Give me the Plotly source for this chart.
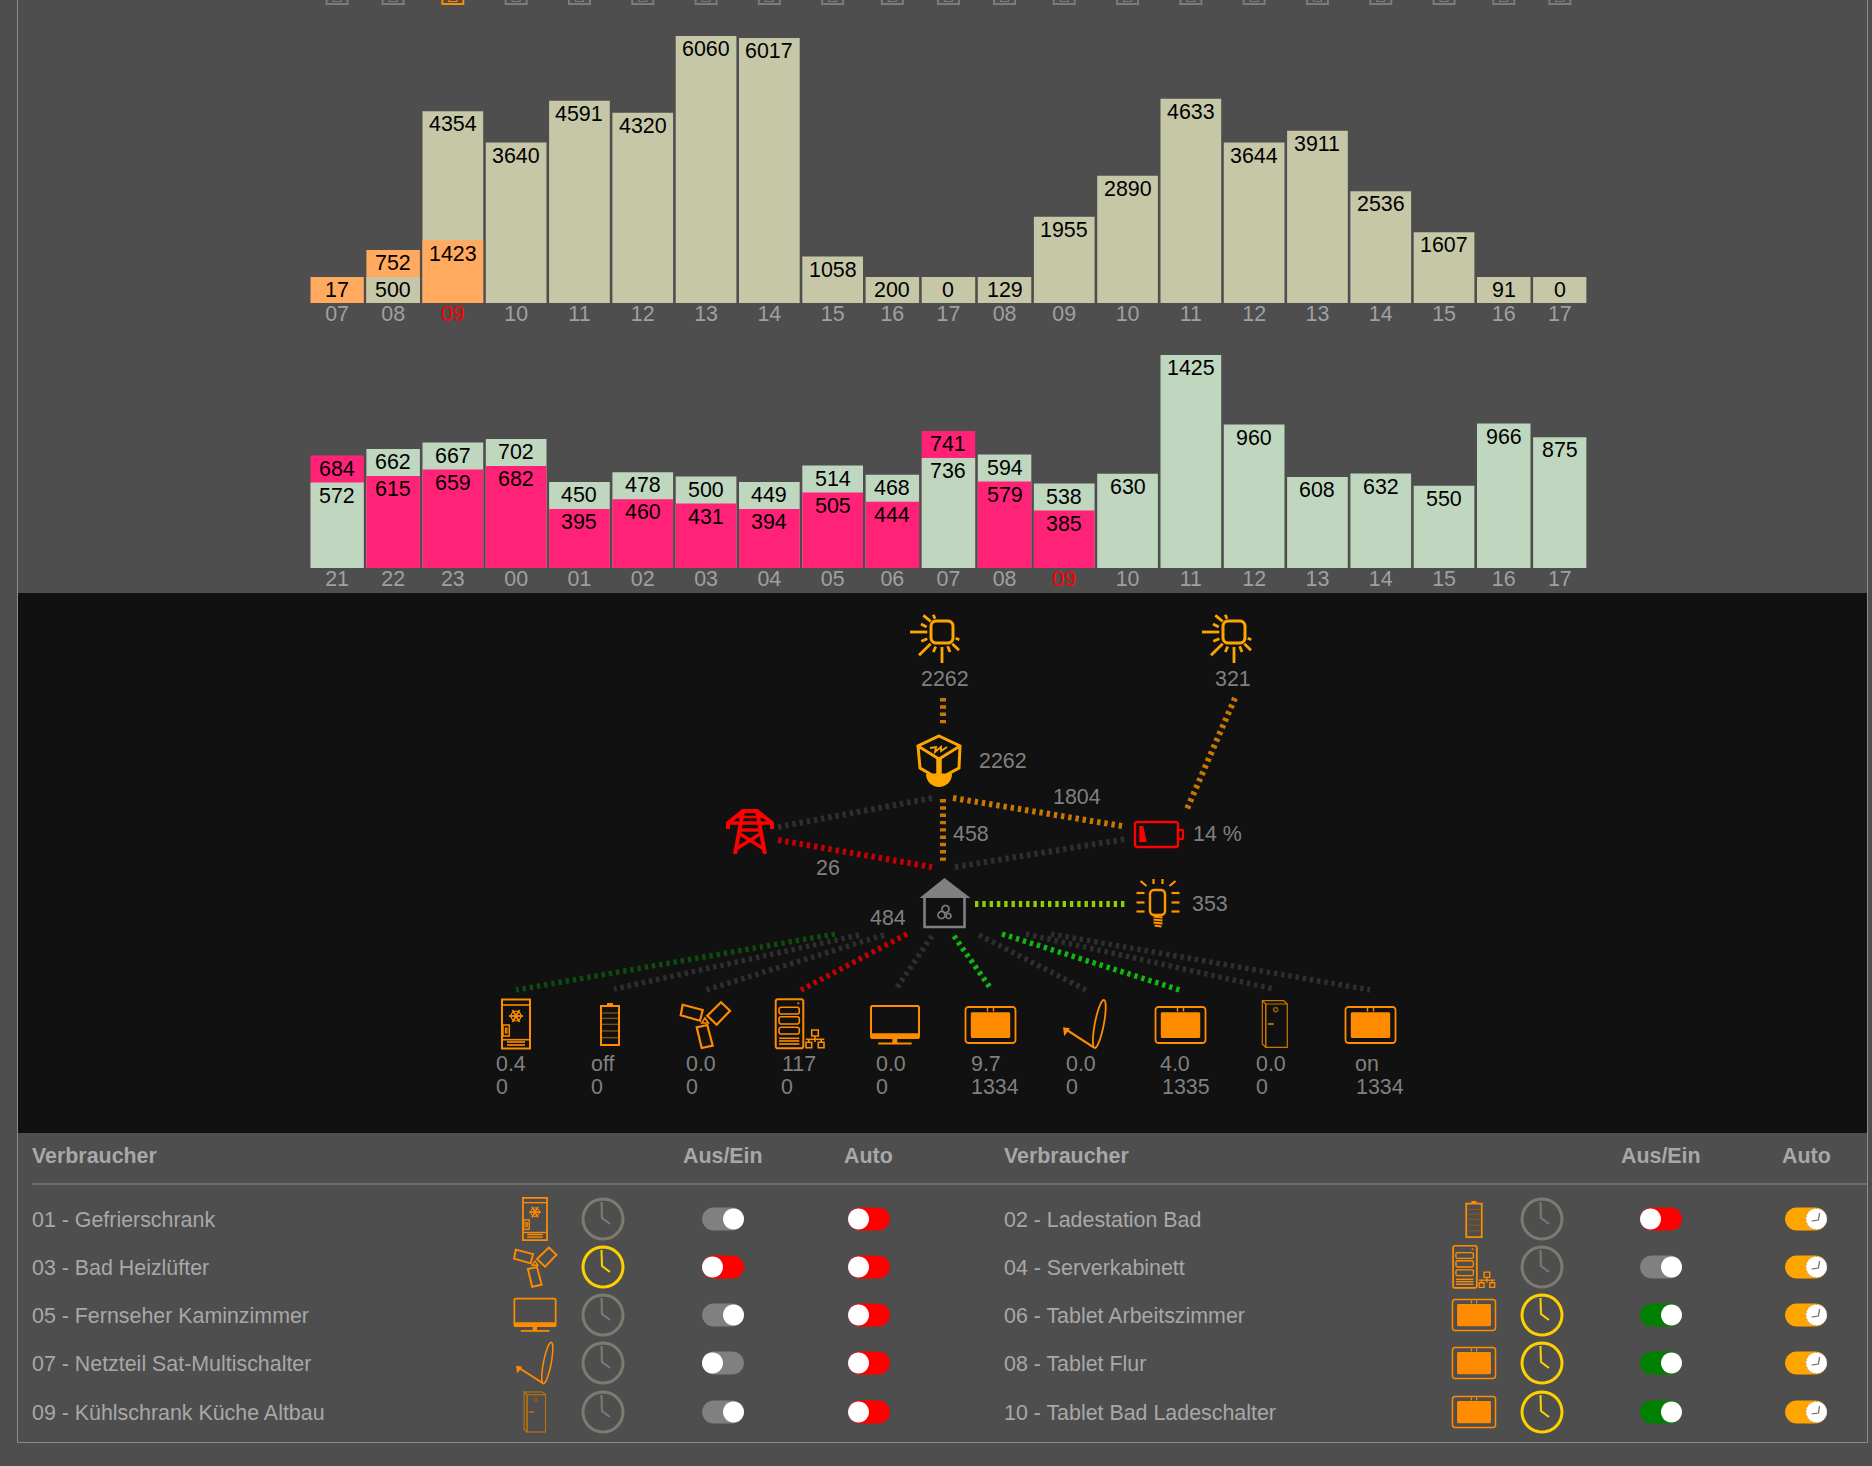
import math
import plotly.graph_objects as go

# ---------- data ----------
slot_labels_top = ["07","08","09","10","11","12","13","14","15","16","17","08","09","10","11","12","13","14","15","16","17"]
olive_values = [None,500,4354,3640,4591,4320,6060,6017,1058,200,0,129,1955,2890,4633,3644,3911,2536,1607,91,0]
orange_values = [17,752,1423,None,None,None,None,None,None,None,None,None,None,None,None,None,None,None,None,None,None]

slot_labels_bottom = ["21","22","23","00","01","02","03","04","05","06","07","08","09","10","11","12","13","14","15","16","17"]
green_values = [572,662,667,702,450,478,500,449,514,468,736,594,538,630,1425,960,608,632,550,966,875]
pink_values = [684,615,659,682,395,460,431,394,505,444,741,579,385,None,None,None,None,None,None,None,None]

consumers = ["01 - Gefrierschrank","02 - Ladestation Bad","03 - Bad Heizlüfter","04 - Serverkabinett",
             "05 - Fernseher Kaminzimmer","06 - Tablet Arbeitszimmer","07 - Netzteil Sat-Multischalter",
             "08 - Tablet Flur","09 - Kühlschrank Küche Altbau","10 - Tablet Bad Ladeschalter"]
device_power = ["0.4","off","0.0","117","0.0","9.7","0.0","4.0","0.0","on"]
device_energy = ["0","0","0","0","0","1334","0","1335","0","1334"]
flow_solar1, flow_solar2, flow_inverter, flow_batt_in, flow_house_in = "2262","321","2262","1804","458"
flow_grid, flow_batt_pct, flow_light, flow_house = "26","14 %","353","484"

# ---------- layout constants ----------
W, H = 1872, 1466
BG, PANEL = "#4e4e4e", "#111111"
FONT = "Liberation Sans"
FS = 21.4
NARROW = {0,1,9,10,11,19,20}
PITCH_N, PITCH_W, GAP = 56.1, 63.3, 2.6
X0 = 310.3
BASE1, KTOP1, K1 = 303, 20, 267/6060
BASE2, KTOP2, K2 = 568, 340, 213/1425
MIN_PX, MINSEG_PX = 26, 27
OLIVE, ORANGE, GREEN, PINK = "#c5c7a7", "#ffaa5e", "#bfd6bf", "#ff2277"
RED_LABEL_TOP, RED_LABEL_BOTTOM = 2, 12

pitch = [PITCH_N if i in NARROW else PITCH_W for i in range(21)]
left = [X0 + sum(pitch[:i]) for i in range(21)]
bar_w = [p - GAP for p in pitch]
center = [l + w/2 for l, w in zip(left, bar_w)]

notes = []


def split(sa, sb, ca, cb, k):
    """Return back/front heights, labels and colours per slot."""
    mn, ms = MIN_PX/k, MINSEG_PX/k
    by, bt, bc, fy, ft, fc = [], [], [], [], [], []
    for a, b in zip(sa, sb):
        if a is None or b is None:
            v, c = (a, ca) if b is None else (b, cb)
            fy.append(max(v, mn)); ft.append(str(v)); fc.append(c)
            by.append(None); bt.append(""); bc.append(c)
        else:
            lo, hi, cl, ch = (a, b, ca, cb) if a <= b else (b, a, cb, ca)
            h = max(lo, mn)
            fy.append(h); ft.append(str(lo)); fc.append(cl)
            by.append(max(hi, h + ms)); bt.append(str(hi)); bc.append(ch)
    return by, bt, bc, fy, ft, fc


fig = go.Figure()


def add_chart(sa, sb, ca, cb, k, xa, ya):
    by, bt, bc, fy, ft, fc = split(sa, sb, ca, cb, k)
    for y, t, c in ((by, bt, bc), (fy, ft, fc)):
        fig.add_bar(x=center, y=y, width=bar_w, marker=dict(color=c, line=dict(width=0)),
                    hoverinfo="skip", xaxis=xa, yaxis=ya, showlegend=False)
        for xx, yy, tt in zip(center, y, t):
            if yy is not None:
                notes.append(dict(x=xx, y=yy, xref=xa, yref=ya, text=tt, showarrow=False, xanchor="center",
                                  yanchor="middle", yshift=-13.2, font=dict(family=FONT, size=FS, color="#000000")))


add_chart(olive_values, orange_values, OLIVE, ORANGE, K1, "x", "y")
add_chart(green_values, pink_values, GREEN, PINK, K2, "x2", "y2")
fig.add_scatter(x=[0, W], y=[0, H], mode="markers", marker=dict(opacity=0), xaxis="x3", yaxis="y3",
                hoverinfo="skip", showlegend=False)

# ---------- drawing helpers ----------
shapes = []


def path(pts, closed=False):
    s = "M " + " L ".join(f"{x:.2f} {y:.2f}" for x, y in pts)
    return s + (" Z" if closed else "")


def stroke(pts, color, w, closed=False, dash=None):
    ln = dict(color=color, width=w)
    if dash:
        ln["dash"] = dash
    shapes.append(dict(type="path", path=path(pts, closed), xref="x3", yref="y3", line=ln, fillcolor="rgba(0,0,0,0)"))


def fill(pts, color):
    shapes.append(dict(type="path", path=path(pts, True), xref="x3", yref="y3", line=dict(width=0), fillcolor=color))


def rect(x0, y0, x1, y1, color):
    shapes.append(dict(type="rect", x0=x0, x1=x1, y0=y0, y1=y1, xref="x3", yref="y3", line=dict(width=0), fillcolor=color))


def circ(cx, cy, r, n=32, a0=0, a1=360):
    return [(cx + r*math.cos(math.radians(a0 + (a1-a0)*i/n)), cy + r*math.sin(math.radians(a0 + (a1-a0)*i/n))) for i in range(n+1)]


def rrect(x0, y0, x1, y1, r):
    p = []
    for cx, cy, a in ((x1-r, y0+r, -90), (x1-r, y1-r, 0), (x0+r, y1-r, 90), (x0+r, y0+r, 180)):
        p += circ(cx, cy, r, 5, a, a+90)
    return p


def ellipse(cx, cy, a, b, deg, n=36):
    t = math.radians(deg)
    out = []
    for i in range(n+1):
        u = 2*math.pi*i/n
        x, y = a*math.cos(u), b*math.sin(u)
        out.append((cx + x*math.cos(t) - y*math.sin(t), cy + x*math.sin(t) + y*math.cos(t)))
    return out


def text(x, y, s, color="#808080", anchor="left", size=FS):
    if anchor == "left":
        x -= 2.2
    notes.append(dict(x=x, y=y - 0.2, xref="x3", yref="y3", text=s, showarrow=False, xanchor=anchor, yanchor="middle",
                      font=dict(family=FONT, size=size, color=color)))


def S(pts, w=2, c=None, closed=False):
    return ("s", pts, w, c, closed)


def F(pts, c=None):
    return ("f", pts, 0, c, True)


# ---------- icons, local px relative to centre ----------
SUN = [S(rrect(-11,-11,11,11,5), 3, closed=True)] + [S(p, 2.8) for p in (
    [(-32,0),(-14.7,0)], [(-18.7,-16.7),(-11.3,-10.7)], [(-8.7,-17.3),(-7,-13.3)], [(-21,-8),(-15.3,-5)],
    [(-20.7,9.3),(-14.7,6.7)], [(-23,23.3),(-11.3,11.7)], [(-8.7,20),(-6.3,14.7)], [(0,31),(0,15)],
    [(8,20),(5.7,14.3)], [(17,18.3),(10.3,11.7)], [(17.3,7.7),(13.7,6.3)])]
CUBE = [S([(0,-24),(21,-14),(20,8),(7,15),(-7,15),(-19,8),(-21,-14)], 3, closed=True),
        S([(-21,-14),(0,-1),(21,-14)], 2.8), S([(0,-1),(0,15)], 5.5),
        S([(-9,-12),(-3,-13),(-4,-8),(2,-13),(2,-9),(8,-13)], 1.8),
        F(circ(0,14,13,16,0,180))]
PYLON = [S([(-22,-3),(-22,-9),(-7,-21),(7,-21),(22,-9),(22,-3)], 4),
         S([(-22,-9),(22,-9)], 3.6), S([(-12,-15),(12,-15)], 2.6),
         S([(-7,-21),(-15,22)], 4), S([(7,-21),(15,22)], 4), S([(-10,-2),(10,-2)], 3.4),
         S([(-10,2),(14,17)], 3.4), S([(10,2),(-14,17)], 3.4)]
BATT_RED = [S(rrect(-22,-12,21,13,2), 2.4, closed=True), S(rrect(21,-4,26,5,1), 2.2, closed=True),
            F([(-17.7,-8),(-13.7,-8),(-10.3,8),(-17.7,8)])]
BULB = [S(rrect(-7.5,-12.5,7.5,12.5,4), 2.4, closed=True)] + [S(p, 2.2) for p in (
    [(-21,-9.5),(-13,-9.5)], [(-21,0),(-13,0)], [(-21,9),(-13,9)], [(14,-9.5),(22,-9.5)], [(14,0),(22,0)], [(14,9),(22,9)],
    [(-4,-23.5),(-4,-18.5)], [(5,-23.5),(5,-18.5)], [(-17,-21.5),(-11,-16.5)], [(18,-21.5),(12,-16.5)],
    [(-4,14),(5,15)], [(-4,17),(5,18)], [(-4,20),(5,21)], [(-3,23),(4,24)])]
HOUSE = [F([(0,-34),(26,-14),(-25,-14)]), S([(-20,-14),(-20,15),(20,15),(20,-14)], 2.6),
         S(circ(1,-3,3.5), 1.6), S(circ(-3,3,3.5), 1.6), S(circ(4,4,2.5), 1.6)]
FREEZER = [S([(-14,-24.5),(14,-24.5),(14,24.5),(-14,24.5)], 2, closed=True), S([(-14,-19),(14,-19)], 1.6),
           S([(-14,15.7),(14,15.7)], 1.6), S([(-9,18),(9,18)], 1.6), S([(-9,21),(9,21)], 1.6),
           S([(-7,-8),(7,-8)], 1.8), S([(-3.5,-14),(3.5,-2)], 1.8), S([(3.5,-14),(-3.5,-2)], 1.8), S(circ(0,-8,5,12), 1.2),
           S([(-13,1),(-6.7,1),(-6.7,12),(-13,12)], 1.5, closed=True), S([(-10.5,4),(-9,4),(-9,9),(-10.5,9)], 1.2, closed=True)]
BATTERY = [S([(-9,-18),(9,-18),(9,21),(-9,21)], 2, closed=True), F([(-3,-21),(3,-21),(3,-18),(-3,-18)])] + \
          [S([(-8,y),(8,y)], 1.2, "#8f5a10") for y in (-11,-5.7,0.3,7,13.7)]
FAN = [S([(-22.3,-20.3),(-2.3,-15),(-5,-4.3),(-24.3,-9.7)], 2.2, closed=True),
       S([(16,-22.7),(25,-14.3),(11.7,-0.3),(2.3,-9.3)], 2.2, closed=True),
       S([(-8.3,2.3),(2.3,0),(7.7,20.7),(-3.3,23)], 2.2, closed=True),
       S([(-3.3,-2),(0,-7),(3.3,-2)], 1.6, closed=True)]
SERVER = [S(rrect(-24.3,-24.7,3.3,24.3,2), 2, closed=True), S(rrect(-21,-16.7,-0.7,-10,2), 1.6, closed=True),
          S(rrect(-21,-7.3,-0.7,0,2), 1.6, closed=True), S(rrect(-21,3.3,-0.7,10,2), 1.6, closed=True),
          S([(-21,14.3),(-0.7,14.3)], 1.6), S([(-21,17),(-0.7,17)], 1.6), S([(-21,20),(-0.7,20)], 1.6),
          S(circ(-1.7,-20.7,0.8,6), 1),
          S([(11.7,6),(18.3,6),(18.3,12),(11.7,12)], 1.6, closed=True), S([(15,12),(15,18)], 1.6), S([(5.7,15.3),(24.3,15.3)], 1.6),
          S([(8.7,15.3),(8.7,18.3)], 1.6), S([(21.2,15.3),(21.2,18.3)], 1.6),
          S([(6,18.3),(11.7,18.3),(11.7,23.7),(6,23.7)], 1.6, closed=True), S([(18.3,18.3),(24,18.3),(24,23.7),(18.3,23.7)], 1.6, closed=True)]
MONITOR = [S(rrect(-24,-19,24,13,1.5), 2, closed=True), F([(-24.3,8.3),(24.3,8.3),(24.3,13.3),(-24.3,13.3)]),
           F([(-2.7,13),(2.3,13),(2.3,18),(-2.7,18)]), F([(-16.7,17.5),(16.7,17.5),(16.7,19.5),(-16.7,19.5)])]
TABLET = [S(rrect(-25,-18,25,18,3), 1.8, closed=True), F(rrect(-19.7,-12.7,19.7,13,1.5)),
          S([(-3,-17),(-3,-13.5)], 1.4), S([(3,-17),(3,-13.5)], 1.4)]
DISH = [S(ellipse(14.3,0,24.5,4.5,-79), 1.8, closed=True), S([(8.7,23.3),(-19.7,5)], 2.2),
        F([(-22,3.3),(-15,4.3),(-20.7,12.3)])]
FRIDGE = [S([(-9.3,-20),(12.3,-20),(12.3,23.3),(-9.3,23.3)], 1.2, "#c87800", True),
          S([(-12.7,-23.3),(-9.3,-20),(-9.3,23.3),(-12.7,20)], 1.2, "#c87800", True),
          S([(-12.7,-23.3),(8.7,-23.3),(12.3,-20)], 1.2, "#c87800"),
          S(circ(0.7,-14.3,2.2,8), 1.6, "#8f5a10"), S([(-7,0),(-1.3,0)], 2.2, "#a86a10")]


def place(icon, cx, cy, s=1.0, color="#ff8c00"):
    for kind, pts, w, c, closed in icon:
        p = [(cx + s*x, cy + s*y) for x, y in pts]
        if kind == "f":
            fill(p, c or color)
        else:
            stroke(p, c or color, w*s, closed)


# ---------- frame ----------
LINE = "#8c8c8c"
stroke([(17.5,0),(17.5,1442.5),(1867.5,1442.5),(1867.5,0)], LINE, 1)
rect(18, 593, 1867, 1133, PANEL)
stroke([(32,1184),(1867,1184)], LINE, 1)

# stubs of the icons cut off at the top edge
for i, c in enumerate(center):
    col = "#ff8c00" if i == RED_LABEL_TOP else "#7c7c7c"
    stroke([(c-10.5,-3),(c-10.5,4),(c+10.5,4),(c+10.5,-3)], col, 2)
    stroke([(c-4,-3),(c-4,1.5),(c+4,1.5),(c+4,-3)], col, 1.2)

# ---------- flow lines ----------
DIM_O, DARK, RED_F, LIME, GRN, DGRN = "#c87800", "#2f2f2f", "#c80000", "#8fd000", "#10b810", "#0f4d0f"
DASH = "3.4px,3.9px"
flows = [((943,698),(943,724),DIM_O,6), ((943,799),(943,863),DIM_O,6), ((778,827),(932,798),DARK,6),
         ((778,840),(932,867),RED_F,6), ((953,798),(1122,826),DIM_O,6), ((955,867),(1126,839),DARK,6),
         ((1235,698),(1187,809),DIM_O,6), ((975,904),(1125,904),LIME,6),
         ((835,934),(516,990),DGRN,5.5), ((859,935),(614,989),DARK,5.5), ((884,935),(706,990),DARK,5.5),
         ((907,934),(801,990),RED_F,5.5), ((932,936),(896,989),DARK,5.5), ((954,936),(991,989),GRN,5.5),
         ((979,935),(1086,990),DARK,5.5), ((1002,934),(1180,990),GRN,5.5), ((1026,934),(1274,989),DARK,5.5),
         ((1051,934),(1370,990),DARK,5.5)]
for a, b, c, w in flows:
    stroke([a, b], c, w, dash=DASH)

# ---------- flow icons ----------
place(SUN, 942, 632, 1, "#ffa500")
place(SUN, 1234, 632, 1, "#ffa500")
place(CUBE, 939, 760, 1, "#ffa500")
place(PYLON, 750, 832, 1, "#ff0000")
place(BATT_RED, 1157, 834, 1, "#ff0000")
place(BULB, 1157.5, 902.5, 1, "#ff9500")
place(HOUSE, 944.5, 912, 1, "#808080")

text(945, 679, flow_solar1, anchor="center")
text(1233, 679, flow_solar2, anchor="center")
text(1003, 761, flow_inverter, anchor="center")
text(953, 834, flow_house_in)
text(828, 868, flow_grid, anchor="center")
text(1077, 797, flow_batt_in, anchor="center")
text(1193, 834, flow_batt_pct)
text(1192, 904, flow_light)
text(888, 918, flow_house, anchor="center")

# ---------- devices ----------
ICONS = [FREEZER, BATTERY, FAN, SERVER, MONITOR, TABLET, DISH, TABLET, FRIDGE, TABLET]
DEV_X = [516, 610, 705, 800, 895, 990.5, 1085, 1180.5, 1275, 1370.5]
DEV_Y = [1024, 1024, 1025, 1024, 1025, 1025, 1024, 1025, 1024, 1025]
PW_X = [496, 591, 686, 782, 876, 971, 1066, 1160, 1256, 1355]
EN_X = [496, 591, 686, 781, 876, 971, 1066, 1162, 1256, 1356]
for ic, x, y, pw, en, px, ex in zip(ICONS, DEV_X, DEV_Y, device_power, device_energy, PW_X, EN_X):
    place(ic, x, y)
    text(px, 1064, pw)
    text(ex, 1087, en)

# ---------- table ----------
TXT = "#a8a8a8"
for x0, xa, xb in ((32, 723, 868), (1004, 1661, 1806)):
    text(x0, 1156, "<b>Verbraucher</b>", TXT)
    text(xa, 1156, "<b>Aus/Ein</b>", TXT, "center")
    text(xb, 1156, "<b>Auto</b>", TXT, "center")

ROW_Y = [1219, 1267, 1315, 1363, 1412]
GR, YE = "#7d7a72", "#ffd000"
T_GREY, T_RED, T_GREEN, T_ORG = "#808080", "#ff0000", "#008000", "#ffa500"
clock_on = [0,1,0,0,0, 0,0,1,1,1]
sw_col = [T_GREY,T_RED,T_GREY,T_GREY,T_GREY, T_RED,T_GREY,T_GREEN,T_GREEN,T_GREEN]
sw_right = [1,0,1,0,1, 0,1,1,1,1]


def clock(cx, cy, col):
    stroke(circ(cx, cy, 20, 40), col, 3)
    stroke([(cx-1.5,cy-17),(cx-1,cy-1),(cx+7,cy+5)], col, 2)


def toggle(cx, cy, col, right, auto=False):
    fill(rrect(cx-21, cy-11.5, cx+21, cy+11.5, 11.5), col)
    kx = cx + 10.5 if right else cx - 10.5
    fill(circ(kx, cy, 10.5), "#ffffff")
    if auto:
        stroke(circ(kx, cy, 10.5), "#9a9a9a", 1, dash="1px,2.5px")
        stroke([(kx+3,cy-6),(kx+2,cy+1),(kx-5,cy+2)], "#666666", 1.2)


for i, name in enumerate(consumers):
    r, c = i//2, i % 2
    y = ROW_Y[r]
    tx, ix, kx, ax, bx = ((32, 535, 603, 723, 869), (1004, 1474, 1542, 1661, 1806))[c]
    text(tx, y+1, name, TXT)
    place(ICONS[i], ix, y, 0.86)
    clock(kx, y, YE if clock_on[5*c + r] else GR)
    toggle(ax, y, sw_col[5*c + r], sw_right[5*c + r])
    if c == 0:
        toggle(bx, y, T_RED, False)
    else:
        toggle(bx, y, T_ORG, True, True)

# ---------- axes ----------
x_range = [X0, left[-1] + bar_w[-1]]
dx = [X0/W, x_range[1]/W]


def tick_text(labels, red):
    return [f'<span style="color:#ff0000">{t}</span>' if i == red else t for i, t in enumerate(labels)]


def xa(labels, red, anchor):
    return dict(domain=dx, range=x_range, anchor=anchor, tickmode="array", tickvals=center, ticktext=tick_text(labels, red),
                tickfont=dict(family=FONT, size=FS, color="#a0a0a0"), showgrid=False, zeroline=False, showline=False,
                ticks="", ticklabelstandoff=-4, fixedrange=True)


def ya(top, base, k, anchor):
    return dict(domain=[1-base/H, 1-top/H], range=[0, (base-top)/k], anchor=anchor, visible=False, fixedrange=True)


fig.update_layout(
    width=W, height=H, autosize=False, margin=dict(l=0, r=0, t=0, b=0, pad=0),
    paper_bgcolor=BG, plot_bgcolor="rgba(0,0,0,0)", barmode="overlay", showlegend=False,
    font=dict(family=FONT, size=FS),
    xaxis=xa(slot_labels_top, RED_LABEL_TOP, "y"), yaxis=ya(KTOP1, BASE1, K1, "x"),
    xaxis2=xa(slot_labels_bottom, RED_LABEL_BOTTOM, "y2"), yaxis2=ya(KTOP2, BASE2, K2, "x2"),
    xaxis3=dict(domain=[0,1], range=[0,W], visible=False, anchor="y3", fixedrange=True),
    yaxis3=dict(domain=[0,1], range=[H,0], visible=False, anchor="x3", fixedrange=True),
    shapes=shapes, annotations=notes,
)

fig.write_html("out.html", config=dict(displayModeBar=False),
               post_script="document.body.style.margin='0';document.body.style.overflow='hidden';")
